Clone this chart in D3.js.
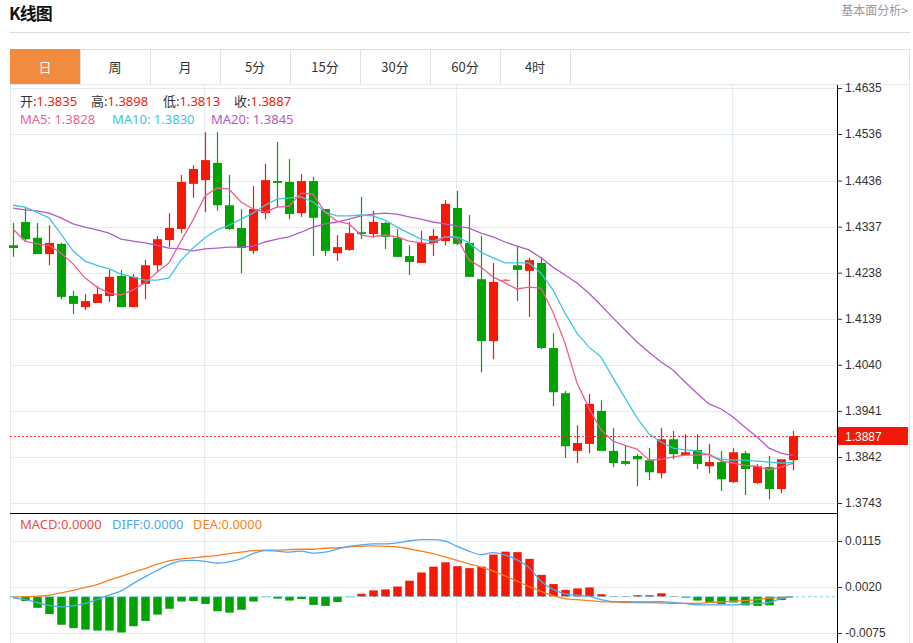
<!DOCTYPE html>
<html><head><meta charset="utf-8">
<script src="https://cdn.jsdelivr.net/npm/d3@7/dist/d3.min.js"></script>
<style>
body{margin:0;background:#fff;}
svg{display:block;font-family:"Noto Sans","Noto Sans CJK SC",sans-serif;}
</style>
</head><body>
<svg id="c" width="913" height="643"></svg>
<script>
const tabs = ["日","周","月","5分","15分","30分","60分","4时"];
const priceTicks = [1.4635,1.4536,1.4436,1.4337,1.4238,1.4139,1.4040,1.3941,1.3842,1.3743];
const macdTicks = [0.0115,0.0020,-0.0075];
const monthGridIdx = [16,37,60];

const openP = [1.4297,1.4347,1.4313,1.4278,1.4300,1.4188,1.4164,1.4173,1.4188,1.4231,
 1.4164,1.4214,1.4254,1.4308,1.4332,1.4429,1.4437,1.4474,1.4383,1.4334,
 1.4285,1.4366,1.4435,1.4433,1.4366,1.4435,1.4375,1.4280,1.4287,1.4325,
 1.4321,1.4345,1.4313,1.4274,1.4259,1.4302,1.4306,1.4377,1.4302,1.4224,
 1.4091,1.4222,1.4254,1.4242,1.4259,1.4076,1.3979,1.3855,1.3870,1.3941,
 1.3855,1.3833,1.3844,1.3835,1.3807,1.3880,1.3846,1.3857,1.3822,1.3831,
 1.3788,1.3850,1.3786,1.3820,1.3773,1.3835];
const highP = [1.4345,1.4379,1.4345,1.4340,1.4302,1.4199,1.4192,1.4209,1.4244,1.4244,
 1.4235,1.4265,1.4317,1.4366,1.4448,1.4469,1.4540,1.4540,1.4448,1.4375,
 1.4424,1.4472,1.4519,1.4482,1.4450,1.4444,1.4375,1.4319,1.4347,1.4401,
 1.4371,1.4347,1.4332,1.4297,1.4328,1.4332,1.4394,1.4414,1.4362,1.4317,
 1.4259,1.4224,1.4295,1.4270,1.4272,1.4108,1.3984,1.3910,1.3977,1.3964,
 1.3904,1.3867,1.3848,1.3861,1.3904,1.3898,1.3891,1.3891,1.3870,1.3855,
 1.3861,1.3855,1.3827,1.3844,1.3837,1.3898];
const lowP = [1.4272,1.4304,1.4278,1.4254,1.4181,1.4149,1.4158,1.4173,1.4175,1.4164,
 1.4164,1.4181,1.4239,1.4293,1.4323,1.4399,1.4368,1.4371,1.4330,1.4237,
 1.4278,1.4353,1.4377,1.4353,1.4358,1.4274,1.4274,1.4263,1.4285,1.4310,
 1.4313,1.4289,1.4272,1.4233,1.4259,1.4274,1.4297,1.4297,1.4229,1.4024,
 1.4052,1.4222,1.4177,1.4143,1.4074,1.3951,1.3840,1.3829,1.3850,1.3855,
 1.3820,1.3824,1.3779,1.3792,1.3796,1.3837,1.3846,1.3816,1.3807,1.3769,
 1.3786,1.3760,1.3784,1.3751,1.3764,1.3813];
const closeP = [1.4291,1.4310,1.4278,1.4302,1.4186,1.4171,1.4177,1.4192,1.4229,1.4164,
 1.4229,1.4254,1.4310,1.4334,1.4433,1.4461,1.4480,1.4383,1.4332,1.4291,
 1.4375,1.4437,1.4431,1.4364,1.4435,1.4356,1.4285,1.4293,1.4323,1.4321,
 1.4347,1.4315,1.4272,1.4261,1.4302,1.4317,1.4386,1.4300,1.4229,1.4091,
 1.4218,1.4223,1.4244,1.4265,1.4076,1.3981,1.3865,1.3872,1.3956,1.3855,
 1.3829,1.3827,1.3837,1.3809,1.3880,1.3848,1.3852,1.3827,1.3831,1.3794,
 1.3852,1.3816,1.3822,1.3773,1.3837,1.3887];

const ma5 = [1.4332,1.4306,1.4300,1.4297,1.4280,1.4257,1.4227,1.4207,1.4194,1.4190,
 1.4201,1.4216,1.4239,1.4259,1.4306,1.4351,1.4403,1.4420,1.4418,1.4390,
 1.4375,1.4368,1.4379,1.4381,1.4409,1.4407,1.4368,1.4349,1.4343,1.4319,
 1.4315,1.4319,1.4315,1.4306,1.4302,1.4300,1.4315,1.4313,1.4265,1.4250,
 1.4229,1.4216,1.4203,1.4207,1.4205,1.4153,1.4087,1.4001,1.3947,1.3900,
 1.3876,1.3867,1.3859,1.3835,1.3837,1.3842,1.3846,1.3846,1.3848,1.3833,
 1.3829,1.3824,1.3822,1.3814,1.3820,1.3828];
const ma10 = [1.4383,1.4379,1.4368,1.4356,1.4321,1.4285,1.4263,1.4254,1.4246,1.4235,
 1.4229,1.4222,1.4222,1.4227,1.4265,1.4291,1.4313,1.4330,1.4340,1.4353,
 1.4366,1.4383,1.4396,1.4399,1.4401,1.4390,1.4368,1.4360,1.4360,1.4362,
 1.4360,1.4351,1.4336,1.4323,1.4310,1.4306,1.4315,1.4315,1.4302,1.4282,
 1.4270,1.4259,1.4259,1.4259,1.4237,1.4201,1.4151,1.4108,1.4078,1.4057,
 1.4012,1.3969,1.3926,1.3891,1.3874,1.3861,1.3857,1.3855,1.3846,1.3837,
 1.3835,1.3835,1.3833,1.3831,1.3829,1.3830];
const ma20 = [1.4377,1.4373,1.4371,1.4366,1.4356,1.4343,1.4336,1.4330,1.4323,1.4310,
 1.4306,1.4302,1.4297,1.4291,1.4289,1.4285,1.4289,1.4291,1.4293,1.4293,
 1.4295,1.4304,1.4310,1.4315,1.4325,1.4336,1.4343,1.4347,1.4353,1.4360,
 1.4364,1.4366,1.4364,1.4358,1.4353,1.4347,1.4343,1.4338,1.4334,1.4323,
 1.4315,1.4304,1.4295,1.4287,1.4270,1.4250,1.4233,1.4216,1.4194,1.4168,
 1.4141,1.4115,1.4089,1.4067,1.4046,1.4029,1.4003,1.3979,1.3956,1.3945,
 1.3928,1.3906,1.3885,1.3861,1.3850,1.3845];

const macdBar = [-0.0001,-0.0009,-0.0023,-0.0036,-0.0058,-0.0065,-0.0068,-0.0070,-0.0070,-0.0074,
 -0.0061,-0.0050,-0.0037,-0.0025,-0.0010,-0.0009,-0.0015,-0.0030,-0.0033,-0.0027,
 -0.0010,-0.0001,-0.0004,-0.0008,-0.0005,-0.0017,-0.0019,-0.0011,-0.0001,0.0006,
 0.0013,0.0015,0.0021,0.0033,0.0050,0.0062,0.0071,0.0063,0.0059,0.0062,
 0.0087,0.0093,0.0092,0.0078,0.0045,0.0026,0.0014,0.0017,0.0019,0.0005,
 0.0001,0.0001,0.0003,0.0003,0.0007,0.0001,-0.0002,-0.0008,-0.0012,-0.0015,
 -0.0012,-0.0018,-0.0019,-0.0018,-0.0007,0.0000];
const diffLine = [-0.0003,-0.0006,-0.0012,-0.0018,-0.0021,-0.0019,-0.0014,-0.0006,0.0003,0.0012,
 0.0027,0.0041,0.0054,0.0066,0.0074,0.0075,0.0073,0.0069,0.0072,0.0078,
 0.0089,0.0095,0.0094,0.0092,0.0094,0.0090,0.0092,0.0098,0.0104,0.0107,
 0.0109,0.0109,0.0111,0.0115,0.0118,0.0118,0.0115,0.0104,0.0094,0.0087,
 0.0091,0.0086,0.0076,0.0060,0.0032,0.0015,0.0006,0.0003,0.0001,-0.0006,
 -0.0010,-0.0010,-0.0011,-0.0011,-0.0010,-0.0012,-0.0014,-0.0017,-0.0017,-0.0017,
 -0.0017,-0.0015,-0.0014,-0.0012,-0.0004,0.0000];
const deaLine = [-0.0001,0.0000,0.0001,0.0003,0.0008,0.0013,0.0019,0.0025,0.0034,0.0042,
 0.0050,0.0058,0.0067,0.0074,0.0078,0.0080,0.0083,0.0085,0.0089,0.0092,
 0.0095,0.0096,0.0096,0.0097,0.0098,0.0098,0.0100,0.0101,0.0103,0.0104,
 0.0105,0.0104,0.0103,0.0099,0.0094,0.0089,0.0082,0.0075,0.0068,0.0061,
 0.0053,0.0043,0.0032,0.0021,0.0011,0.0002,-0.0004,-0.0006,-0.0008,-0.0010,
 -0.0011,-0.0012,-0.0012,-0.0012,-0.0013,-0.0014,-0.0014,-0.0014,-0.0012,-0.0011,
 -0.0009,-0.0008,-0.0006,-0.0003,-0.0002,0.0000];

const RED = "#f41a06", GREEN = "#03a203";
const C_MA5 = "#ee5f93", C_MA10 = "#3cc7df", C_MA20 = "#b35bc7";
const C_DIFF = "#4ea8f2", C_DEA = "#fb7e22";
const GRID = "#e3ebf2";

const svg = d3.select("#c");
const n = closeP.length;
const L = 10, R = 837, TOP = 85, MID = 513, BOT = 643;

// header
svg.append("text").attr("x", 9).attr("y", 20).attr("font-size", 17).attr("font-weight", "bold")
  .attr("font-family", "'Noto Sans CJK SC',sans-serif").attr("fill", "#111").attr("letter-spacing", -1).text("K线图");
svg.append("text").attr("x", 908).attr("y", 15).attr("text-anchor", "end").attr("font-size", 12)
  .attr("font-family", "'Noto Sans CJK SC',sans-serif").attr("fill", "#999").text("基本面分析>");
svg.append("line").attr("x1", 10).attr("x2", 910).attr("y1", 32.5).attr("y2", 32.5).attr("stroke", "#d9d9d9");

// tabs
const tabX = d3.scaleBand().domain(tabs).range([10, 10 + 70 * tabs.length]);
svg.append("rect").attr("x", 10.5).attr("y", 49.5).attr("width", 899).attr("height", 35)
  .attr("fill", "#fff").attr("stroke", "#e2e2e2");
const tg = svg.append("g").selectAll("g").data(tabs).join("g");
tg.append("rect").attr("x", d => tabX(d) + 0.5).attr("y", 49.5).attr("width", tabX.bandwidth()).attr("height", 35)
  .attr("fill", (d, i) => i === 0 ? "#f28b3d" : "#fff").attr("stroke", (d, i) => i === 0 ? "#f28b3d" : "#e2e2e2");
tg.append("text").attr("x", d => tabX(d) + tabX.bandwidth() / 2).attr("y", 72).attr("text-anchor", "middle")
  .attr("font-size", 13).attr("font-family", "'Noto Sans CJK SC',sans-serif")
  .attr("fill", (d, i) => i === 0 ? "#fff" : "#333").text(d => d);

// panel border
svg.append("rect").attr("x", 10.5).attr("y", 84.5).attr("width", 899).attr("height", 560)
  .attr("fill", "none").attr("stroke", "#e6e6e6");

// scales
const x = d3.scaleBand().domain(d3.range(n)).range([7, 7 + 12 * n]).paddingInner(0.25).paddingOuter(0.125);
const cx = i => x(i) + x.bandwidth() / 2;
const y = d3.scaleLinear().domain([1.3743, 1.4635]).range([503, 88]);
const yM = d3.scaleLinear().domain([-0.0075, 0.0115]).range([633, 541]);

// grid
const grid = svg.append("g").attr("stroke", GRID).attr("stroke-width", 1);
grid.selectAll(".hp").data(priceTicks).join("line").attr("x1", L).attr("x2", R)
  .attr("y1", d => Math.round(y(d)) + 0.5).attr("y2", d => Math.round(y(d)) + 0.5);
grid.selectAll(".hm").data(macdTicks).join("line").attr("class", "hm").attr("x1", L).attr("x2", R)
  .attr("y1", d => Math.round(yM(d)) + 0.5).attr("y2", d => Math.round(yM(d)) + 0.5);
grid.selectAll(".v").data(monthGridIdx).join("line").attr("class", "v")
  .attr("x1", d => Math.round(cx(d)) - 0.5).attr("x2", d => Math.round(cx(d)) - 0.5).attr("y1", TOP).attr("y2", BOT);

// candles
const idx = d3.range(n);
const colorOf = i => closeP[i] >= openP[i] ? RED : GREEN;
const cg = svg.append("g");
cg.selectAll("line").data(idx).join("line")
  .attr("x1", i => Math.round(cx(i)) + 0.5).attr("x2", i => Math.round(cx(i)) + 0.5)
  .attr("y1", i => y(highP[i])).attr("y2", i => y(lowP[i])).attr("stroke", colorOf).attr("stroke-width", 1.2);
cg.selectAll("rect").data(idx).join("rect")
  .attr("x", i => Math.round(cx(i)) + 0.5 - x.bandwidth() / 2).attr("width", x.bandwidth())
  .attr("y", i => Math.min(y(openP[i]), y(closeP[i])))
  .attr("height", i => Math.max(1.5, Math.abs(y(openP[i]) - y(closeP[i]))))
  .attr("fill", colorOf)
  .attr("opacity", i => Math.abs(y(openP[i]) - y(closeP[i])) < 1 ? 0.6 : 1);

// MA lines
const lineP = arr => d3.line().x((d, i) => cx(i)).y(d => y(d))(arr);
[[ma20, C_MA20], [ma10, C_MA10], [ma5, C_MA5]].forEach(([arr, c]) => {
  svg.append("path").attr("d", lineP(arr)).attr("fill", "none").attr("stroke", c).attr("stroke-width", 1.3);
});

// last price line
const last = n - 1;
svg.append("line").attr("x1", L).attr("x2", R).attr("y1", Math.round(y(closeP[last])) + 0.5)
  .attr("y2", Math.round(y(closeP[last])) + 0.5).attr("stroke", "#f33").attr("stroke-dasharray", "2,2");

// MACD bars
const bw = 8.5;
svg.append("g").selectAll("rect").data(idx).join("rect")
  .attr("x", i => Math.round(cx(i)) + 0.5 - bw / 2).attr("width", bw)
  .attr("y", i => Math.min(yM(0), yM(macdBar[i])))
  .attr("height", i => Math.abs(yM(macdBar[i]) - yM(0)))
  .attr("fill", i => macdBar[i] >= 0 ? RED : GREEN);
svg.append("line").attr("x1", L).attr("x2", R - 2).attr("y1", yM(0)).attr("y2", yM(0))
  .attr("stroke", "#86d3ef").attr("stroke-dasharray", "3,3");
const lineM = arr => d3.line().x((d, i) => cx(i)).y(d => yM(d)).curve(d3.curveMonotoneX)(arr);
svg.append("path").attr("d", lineM(deaLine)).attr("fill", "none").attr("stroke", C_DEA).attr("stroke-width", 1.3);
svg.append("path").attr("d", lineM(diffLine)).attr("fill", "none").attr("stroke", C_DIFF).attr("stroke-width", 1.3);

// separator and axis line
svg.append("line").attr("x1", L).attr("x2", R).attr("y1", MID + 0.5).attr("y2", MID + 0.5).attr("stroke", "#000");
svg.append("line").attr("x1", R + 0.5).attr("x2", R + 0.5).attr("y1", TOP).attr("y2", BOT).attr("stroke", "#000");

// axes
const fmt = d => d.toFixed(4);
const ax1 = svg.append("g").attr("transform", `translate(${R},0)`)
  .call(d3.axisRight(y).tickValues(priceTicks).tickSize(5).tickPadding(3).tickFormat(fmt));
const ax2 = svg.append("g").attr("transform", `translate(${R},0)`)
  .call(d3.axisRight(yM).tickValues(macdTicks).tickSize(5).tickPadding(3).tickFormat(fmt));
[ax1, ax2].forEach(a => {
  a.select(".domain").remove();
  a.selectAll("line").attr("stroke", "#333");
  a.selectAll("text").attr("font-size", 12).attr("font-family", "'Liberation Sans',Arial,sans-serif").attr("fill", "#333");
});

// last price tag
const ly = y(closeP[last]);
svg.append("rect").attr("x", R + 1).attr("y", ly - 9).attr("width", 70).attr("height", 18).attr("fill", "#f0190a");
svg.append("text").attr("x", R + 8).attr("y", ly + 4.5).attr("font-size", 12)
  .attr("font-family", "'Liberation Sans',Arial,sans-serif").attr("fill", "#fff").text(fmt(closeP[last]));

// legends
const leg = (xp, yp, parts) => {
  const t = svg.append("text").attr("x", xp).attr("y", yp).attr("font-size", 13);
  parts.forEach(([s, c]) => t.append("tspan").attr("fill", c).text(s));
};
leg(20, 106, [["开:", "#333"], [fmt(openP[last]), RED]]);
leg(91, 106, [["高:", "#333"], [fmt(highP[last]), RED]]);
leg(163, 106, [["低:", "#333"], [fmt(lowP[last]), RED]]);
leg(234, 106, [["收:", "#333"], [fmt(closeP[last]), RED]]);
leg(20, 124, [["MA5: " + fmt(ma5[last]), C_MA5]]);
leg(112, 124, [["MA10: " + fmt(ma10[last]), C_MA10]]);
leg(211, 124, [["MA20: " + fmt(ma20[last]), C_MA20]]);
leg(20, 529, [["MACD:" + fmt(macdBar[last]), "#f04a4a"]]);
leg(112, 529, [["DIFF:" + fmt(diffLine[last]), C_DIFF]]);
leg(193, 529, [["DEA:" + fmt(deaLine[last]), C_DEA]]);
</script>
</body></html>
